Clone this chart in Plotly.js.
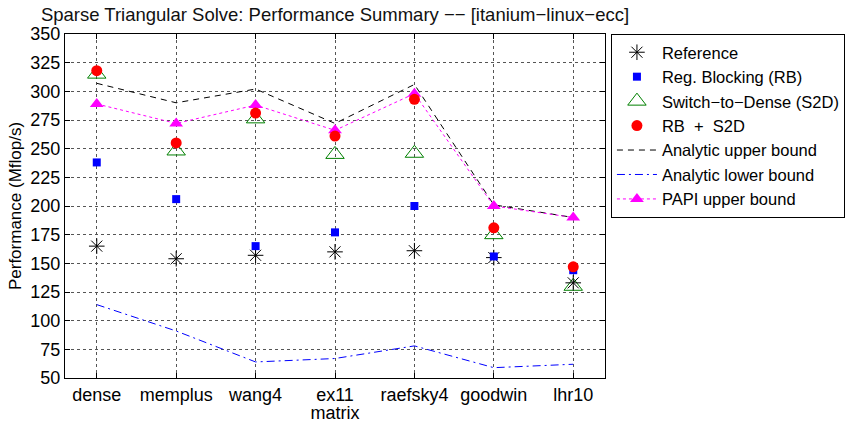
<!DOCTYPE html>
<html>
<head>
<meta charset="utf-8">
<script src="https://cdn.plot.ly/plotly-3.0.1.min.js"></script>
<style>html,body{margin:0;padding:0;background:#fff;}#chart{width:857px;height:423px;}</style>
</head>
<body>
<div id="chart"></div>
<script>
const categories = ["dense", "memplus", "wang4", "ex11", "raefsky4", "goodwin", "lhr10"];
const reference = [165, 154, 157, 160, 161, 155, 133];
const regBlocking = [238, 206, 165, 177, 200, 156, 144];
const switchToDense = [315, 248, 276, 245, 246, 175, 130];
const rbS2D = [318, 255, 281, 261, 293, 181, 147];
const analyticUpper = [307, 290, 302, 272, 306, 201, 190];
const analyticLower = [114, 91, 64, 67, 78, 59, 62];
const papiUpper = [289, 272, 288, 266, 298, 200, 190];

const xs = categories.map((c, i) => i + 1);
const FONT = "Liberation Sans, Arial, Helvetica, sans-serif";

const traces = [
  {name: "Analytic upper bound", legendrank: 5, x: xs, y: analyticUpper, mode: "lines", type: "scatter",
   line: {color: "black", width: 1, dash: "6px,5px"}},
  {name: "Analytic lower bound", legendrank: 6, x: xs, y: analyticLower, mode: "lines", type: "scatter",
   line: {color: "#0000ff", width: 1, dash: "8px,4px,2px,4px"}},
  {name: "PAPI upper bound", legendrank: 7, x: xs, y: papiUpper, mode: "lines+markers", type: "scatter",
   line: {color: "#ff00ff", width: 1, dash: "dot"},
   marker: {symbol: "triangle-up", size: 12, color: "#ff00ff", line: {width: 0}}},
  {name: "Switch\u2212to\u2212Dense (S2D)", legendrank: 3, x: xs, y: switchToDense, mode: "markers", type: "scatter",
   marker: {symbol: "triangle-up-open", size: 16, color: "#008000", line: {color: "#008000", width: 1}}},
  {name: "Reference", legendrank: 1, x: xs, y: reference, mode: "markers", type: "scatter",
   marker: {symbol: "asterisk-open", size: 13, color: "black", line: {color: "black", width: 1}}},
  {name: "Reg. Blocking (RB)", legendrank: 2, x: xs, y: regBlocking, mode: "markers", type: "scatter",
   marker: {symbol: "square", size: 8, color: "#0000ff", line: {width: 0}}},
  {name: "RB  +  S2D", legendrank: 4, x: xs, y: rbS2D, mode: "markers", type: "scatter",
   marker: {symbol: "circle", size: 11, color: "#ff0000", line: {width: 0}}}
];

const layout = {
  width: 857, height: 423,
  margin: {l: 65, r: 252, t: 34, b: 45},
  paper_bgcolor: "white", plot_bgcolor: "white",
  font: {family: FONT, size: 18, color: "black"},
  title: {text: "Sparse Triangular Solve: Performance Summary \u2212\u2212 [itanium\u2212linux\u2212ecc]",
          font: {family: FONT, size: 18.5, color: "#111"},
          x: 0.5, xref: "paper", y: 1 - 15 / 423, yref: "container", yanchor: "middle"},
  xaxis: {
    range: [0.6, 7.4], tickvals: xs, ticktext: categories,
    showgrid: true, gridcolor: "#555", griddash: "dot", gridwidth: 1,
    ticks: "inside", ticklen: 5, tickcolor: "black",
    showline: true, linecolor: "black", linewidth: 1, mirror: "ticks",
    zeroline: false, tickfont: {family: FONT, size: 18},
    title: {text: "matrix", font: {family: FONT, size: 18}, standoff: 0}
  },
  yaxis: {
    range: [50, 350], dtick: 25, tick0: 50,
    showgrid: true, gridcolor: "#555", griddash: "dot", gridwidth: 1,
    ticks: "inside", ticklen: 5, tickcolor: "black",
    showline: true, linecolor: "black", linewidth: 1, mirror: "ticks",
    zeroline: false, tickfont: {family: FONT, size: 18},
    title: {text: "Performance (Mflop/s)", font: {family: FONT, size: 17}, standoff: 4}
  },
  legend: {
    x: 1.011, xanchor: "left", y: 1, yanchor: "top",
    bordercolor: "black", borderwidth: 1, bgcolor: "white",
    font: {family: FONT, size: 16.5, color: "black"},
    tracegroupgap: 0, itemwidth: 40, traceorder: "normal"
  },
  showlegend: true
};

Plotly.newPlot("chart", traces, layout, {displayModeBar: false, staticPlot: true});
</script>
</body>
</html>
